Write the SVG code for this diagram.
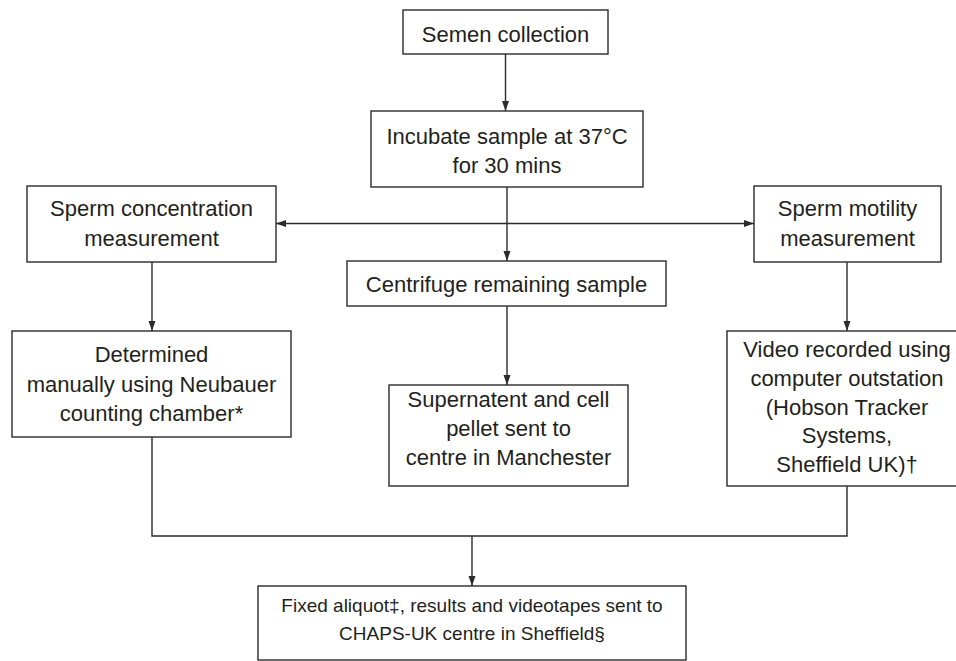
<svg xmlns="http://www.w3.org/2000/svg" width="956" height="661" viewBox="0 0 956 661">
<style>
.box{fill:#fff;stroke:#2b2b2b;stroke-width:1.4}
.t{font-family:"Liberation Sans",Arial,sans-serif;font-size:22px;fill:#231f20;text-anchor:middle}
.s{font-size:19px}
.c{fill:none;stroke:#2b2b2b;stroke-width:1.4}
</style>
<defs>
<marker id="ah" markerUnits="userSpaceOnUse" markerWidth="10" markerHeight="10" viewBox="0 0 10 10" refX="10" refY="5" orient="auto">
<path d="M0,1.5 L10,5 L0,8.5 Z" fill="#2b2b2b"/>
</marker>
</defs>
<rect width="956" height="661" fill="#fff"/>
<g id="connectors">
<line class="c" x1="505.5" y1="54" x2="505.5" y2="111" marker-end="url(#ah)"/>
<line class="c" x1="507" y1="187" x2="507" y2="261" marker-end="url(#ah)"/>
<line class="c" x1="507" y1="223.5" x2="276" y2="223.5" marker-end="url(#ah)"/>
<line class="c" x1="507" y1="223.5" x2="754" y2="223.5" marker-end="url(#ah)"/>
<line class="c" x1="152" y1="262" x2="152" y2="331" marker-end="url(#ah)"/>
<line class="c" x1="847" y1="262" x2="847" y2="331" marker-end="url(#ah)"/>
<line class="c" x1="507" y1="306" x2="507" y2="385" marker-end="url(#ah)"/>
<polyline class="c" points="152,437 152,536 847,536 847,486"/>
<line class="c" x1="472" y1="536" x2="472" y2="586" marker-end="url(#ah)"/>
</g>
<g id="semen">
<rect class="box" x="403" y="10" width="205" height="44"/>
<text class="t" x="505.5" y="42">Semen collection</text>
</g>
<g id="incubate">
<rect class="box" x="371" y="111" width="272" height="76"/>
<text class="t" x="507" y="144">Incubate sample at 37°C</text>
<text class="t" x="507" y="173">for 30 mins</text>
</g>
<g id="concentration">
<rect class="box" x="27" y="186" width="249" height="76"/>
<text class="t" x="151.5" y="216">Sperm concentration</text>
<text class="t" x="151.5" y="246">measurement</text>
</g>
<g id="motility">
<rect class="box" x="754" y="186" width="187" height="76"/>
<text class="t" x="847.5" y="216">Sperm motility</text>
<text class="t" x="847.5" y="246">measurement</text>
</g>
<g id="centrifuge">
<rect class="box" x="347" y="261" width="319" height="45"/>
<text class="t" x="506.5" y="292">Centrifuge remaining sample</text>
</g>
<g id="determined">
<rect class="box" x="12" y="331" width="279" height="106"/>
<text class="t" x="151.5" y="362">Determined</text>
<text class="t" x="151.5" y="392">manually using Neubauer</text>
<text class="t" x="151.5" y="421">counting chamber*</text>
</g>
<g id="supernatent">
<rect class="box" x="389" y="385" width="239" height="101"/>
<text class="t" x="508.5" y="407">Supernatent and cell</text>
<text class="t" x="508.5" y="436">pellet sent to</text>
<text class="t" x="508.5" y="465">centre in Manchester</text>
</g>
<g id="video">
<rect class="box" x="727" y="331" width="235" height="155"/>
<text class="t" x="847" y="357">Video recorded using</text>
<text class="t" x="847" y="386">computer outstation</text>
<text class="t" x="847" y="414.5">(Hobson Tracker</text>
<text class="t" x="847" y="443">Systems,</text>
<text class="t" x="847" y="471.5">Sheffield UK)†</text>
</g>
<g id="fixed">
<rect class="box" x="258" y="586" width="428" height="74"/>
<text class="t s" x="472" y="612">Fixed aliquot‡, results and videotapes sent to</text>
<text class="t s" x="472" y="640">CHAPS-UK centre in Sheffield§</text>
</g>
</svg>
